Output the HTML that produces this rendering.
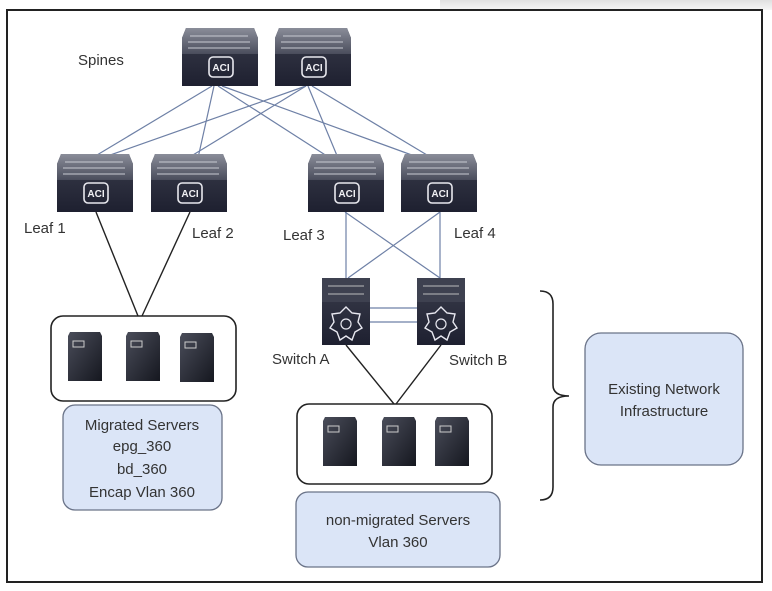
<!DOCTYPE html>
<html><head><meta charset="utf-8"><style>
html,body{margin:0;padding:0;background:#fff;width:772px;height:591px;overflow:hidden}
svg{display:block}
text{font-family:"Liberation Sans",Arial,sans-serif;fill:#333}
</style></head><body>
<svg width="772" height="591" viewBox="0 0 772 591" xmlns="http://www.w3.org/2000/svg">
<defs>
<linearGradient id="top" x1="0" y1="0" x2="0" y2="1"><stop offset="0" stop-color="#8a8d99"/><stop offset="1" stop-color="#4a4d5c"/></linearGradient>
<linearGradient id="body" x1="0" y1="0" x2="0" y2="1"><stop offset="0" stop-color="#3a3d4c"/><stop offset="1" stop-color="#1e2030"/></linearGradient>
<linearGradient id="srv" x1="0" y1="0" x2="1" y2="1"><stop offset="0" stop-color="#4a4d5a"/><stop offset="1" stop-color="#15171f"/></linearGradient>
<linearGradient id="band" x1="0" y1="0" x2="0" y2="1"><stop offset="0" stop-color="#e0e0e0"/><stop offset="1" stop-color="#f6f6f6"/></linearGradient>
<g id="aci">
<path d="M4,0 L72,0 L76,10 L76,58 L0,58 L0,10 Z" fill="url(#body)"/>
<path d="M4,0 L72,0 L76,10 L76,26 L0,26 L0,10 Z" fill="url(#top)"/>
<line x1="8" y1="8" x2="66" y2="8" stroke="#c8cad2" stroke-width="1"/>
<line x1="6" y1="14" x2="68" y2="14" stroke="#c8cad2" stroke-width="1"/>
<line x1="6" y1="20" x2="68" y2="20" stroke="#c8cad2" stroke-width="1"/>
<rect x="27" y="29" width="24" height="20" rx="4" fill="none" stroke="#e8e8ee" stroke-width="1.6"/>
<text x="39" y="43" font-size="10" font-weight="bold" text-anchor="middle" style="fill:#f0f0f4">ACI</text>
</g>
<g id="sw">
<rect x="0" y="0" width="48" height="67" fill="url(#body)"/>
<rect x="0" y="0" width="48" height="24" fill="#3e4150"/>
<line x1="6" y1="8" x2="42" y2="8" stroke="#bbb" stroke-width="1"/>
<line x1="6" y1="16" x2="42" y2="16" stroke="#bbb" stroke-width="1"/>
<path d="M24,29 L30,35 L38,36 L36,44 L40,50 L33,54 L30,62 L24,58 L18,62 L15,54 L8,50 L12,44 L10,36 L18,35 Z" fill="none" stroke="#e8e8f0" stroke-width="1.4"/>
<circle cx="24" cy="46" r="5" fill="none" stroke="#e8e8f0" stroke-width="1.2"/>
</g>
<g id="server">
<path d="M2,0 L32,0 L34,4 L34,49 L0,49 L0,4 Z" fill="url(#srv)"/>
<rect x="5" y="9" width="11" height="6" fill="none" stroke="#ccc" stroke-width="1"/>
</g>
</defs>
<rect x="440" y="0" width="332" height="10" fill="url(#band)"/>
<rect x="7" y="10" width="755" height="572" fill="#fff" stroke="#222" stroke-width="2"/>
<!-- spine-leaf links -->
<g stroke="#6e80a6" stroke-width="1.2" fill="none">
<line x1="212" y1="86" x2="92" y2="158"/><line x1="214" y1="86" x2="198" y2="158"/><line x1="218" y1="86" x2="330" y2="158"/><line x1="222" y1="86" x2="420" y2="158"/>
<line x1="306" y1="86" x2="96" y2="160"/><line x1="306" y1="86" x2="188" y2="158"/><line x1="308" y1="86" x2="338" y2="158"/><line x1="312" y1="86" x2="432" y2="158"/>
<line x1="346" y1="212" x2="346" y2="278"/><line x1="345" y1="212" x2="440" y2="278"/>
<line x1="440" y1="212" x2="440" y2="278"/><line x1="440" y1="212" x2="348" y2="278"/>
<line x1="370" y1="308" x2="417" y2="308"/><line x1="370" y1="322" x2="417" y2="322"/>
</g>
<g stroke="#222" stroke-width="1.4" fill="none">
<line x1="96" y1="212" x2="138" y2="316"/><line x1="190" y1="212" x2="142" y2="316"/>
<line x1="346" y1="345" x2="394" y2="404"/><line x1="441" y1="345" x2="396" y2="404"/>
</g>
<use href="#aci" x="182" y="28"/><use href="#aci" x="275" y="28"/>
<use href="#aci" x="57" y="154"/><use href="#aci" x="151" y="154"/><use href="#aci" x="308" y="154"/><use href="#aci" x="401" y="154"/>
<use href="#sw" x="322" y="278"/><use href="#sw" x="417" y="278"/>
<text x="78" y="65" font-size="15">Spines</text>
<text x="24" y="233" font-size="15">Leaf 1</text>
<text x="192" y="238" font-size="15">Leaf 2</text>
<text x="283" y="240" font-size="15">Leaf 3</text>
<text x="454" y="238" font-size="15">Leaf 4</text>
<text x="272" y="364" font-size="15">Switch A</text>
<text x="449" y="365" font-size="15">Switch B</text>
<rect x="51" y="316" width="185" height="85" rx="12" fill="none" stroke="#222" stroke-width="1.6"/>
<use href="#server" x="68" y="332"/><use href="#server" x="126" y="332"/><use href="#server" x="180" y="333"/>
<rect x="297" y="404" width="195" height="80" rx="12" fill="none" stroke="#222" stroke-width="1.6"/>
<use href="#server" x="323" y="417"/><use href="#server" x="382" y="417"/><use href="#server" x="435" y="417"/>
<rect x="63" y="405" width="159" height="105" rx="12" fill="#dbe5f7" stroke="#6a7388" stroke-width="1.3"/>
<g font-size="15" text-anchor="middle"><text x="142" y="430">Migrated Servers</text><text x="142" y="451">epg_360</text><text x="142" y="474">bd_360</text><text x="142" y="497">Encap Vlan 360</text></g>
<rect x="296" y="492" width="204" height="75" rx="12" fill="#dbe5f7" stroke="#6a7388" stroke-width="1.3"/>
<g font-size="15" text-anchor="middle"><text x="398" y="525">non-migrated Servers</text><text x="398" y="547">Vlan 360</text></g>
<rect x="585" y="333" width="158" height="132" rx="16" fill="#dbe5f7" stroke="#6a7388" stroke-width="1.3"/>
<g font-size="15" text-anchor="middle"><text x="664" y="394">Existing Network</text><text x="664" y="416">Infrastructure</text></g>
<path d="M540,291 Q553,291 553,304 L553,385 Q553,396 569,396 Q553,396 553,407 L553,487 Q553,500 540,500" fill="none" stroke="#222" stroke-width="1.6"/>
</svg>
</body></html>
